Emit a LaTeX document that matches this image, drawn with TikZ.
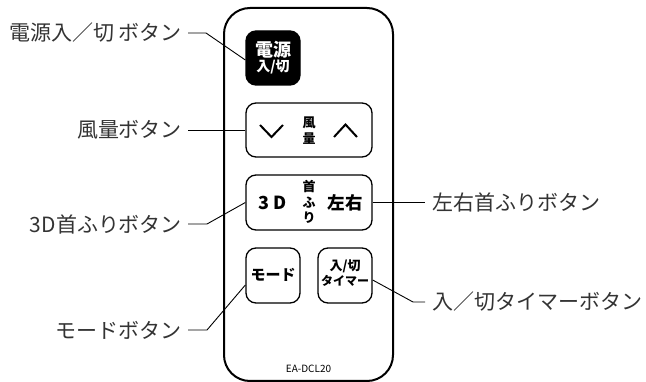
\documentclass[tikz,border=0pt]{standalone}
\usepackage{fontspec}
\setmainfont{Noto Sans CJK JP}
\begin{document}
\begin{tikzpicture}[x=1pt,y=-1pt,
  lbl/.style={inner sep=0pt, outer xsep=6pt, font=\fontsize{21}{24}\selectfont, text=black!80},
  btn/.style={draw, line width=1.3pt, rounded corners=10pt, inner sep=0pt},
  lead/.style={line width=0.9pt},
  bt/.style={inner sep=0pt},
  chev/.style={line width=2pt}]
\useasboundingbox (0,0) rectangle (646,382);
% remote body
\draw[line width=2pt, rounded corners=26pt] (224,8) rectangle (393,381);
% buttons
\node[btn, fill=black, minimum width=54pt, minimum height=54pt] (pw) at (273,58) {};
\node[btn, minimum width=126pt, minimum height=54pt] (fan) at (309,130) {};
\node[btn, minimum width=126pt, minimum height=55pt] (tdb) at (309,202.5) {};
\node[btn, minimum width=54pt, minimum height=55pt] (mode) at (273,275.5) {};
\node[btn, minimum width=54pt, minimum height=55pt] (tmr) at (345,275.5) {};
% button texts
\node[bt, text=white, font=\bfseries\fontsize{18}{18}\selectfont] (pwa) at (273,50) {電源};
\node[bt, text=white, font=\bfseries\fontsize{14}{14}\selectfont] (pwb) at (273,67.5) {入/切};
\node[bt, font=\bfseries\fontsize{13}{13}\selectfont] (fana) at (309,123) {風};
\node[bt, font=\bfseries\fontsize{13}{13}\selectfont] (fanb) at (309,139) {量};
\draw[chev] (260,125) -- (271.5,137) -- (283,125);
\draw[chev] (334,137) -- (345.5,124.5) -- (357,137);
\node[bt, font=\bfseries\fontsize{18}{18}\selectfont] (tda) at (272.5,203) {3\hspace{4.5pt}D};
\node[bt, font=\bfseries\fontsize{13}{13}\selectfont] (tdb1) at (309,187) {首};
\node[bt, font=\bfseries\fontsize{13}{13}\selectfont] (tdb2) at (309,203) {ふ};
\node[bt, font=\bfseries\fontsize{13}{13}\selectfont] (tdb3) at (309,218) {り};
\node[bt, font=\bfseries\fontsize{17.5}{18}\selectfont] (tdc) at (345,203) {左右};
\node[bt, font=\bfseries\fontsize{15}{15}\selectfont] (modet) at (273,275) {モード};
\node[bt, font=\bfseries\fontsize{13}{13}\selectfont] (tma) at (345,266) {入/切};
\node[bt, font=\bfseries\fontsize{12}{12}\selectfont] (tmb) at (345,281) {タイマー};
\node[bt, font=\fontsize{10}{10}\selectfont] (model) at (308.5,369) {EA-DCL20};
% labels
\node[lbl, anchor=east] (l1) at (188,33) {電源入／切 ボタン};
\node[lbl, anchor=east] (l2) at (188,130) {風量ボタン};
\node[lbl, anchor=east] (l3) at (188,224) {3D首ふりボタン};
\node[lbl, anchor=east] (l4) at (188,330) {モードボタン};
\node[lbl, anchor=west, outer xsep=7pt] (l5) at (425,202.5) {左右首ふりボタン};
\node[lbl, anchor=west, outer xsep=7pt] (l6) at (425,302) {入／切タイマーボタン};
% leaders
\coordinate (k1) at (206,33);
\coordinate (k3) at (207,224);
\coordinate (k4) at (207,330);
\coordinate (k6) at (413,302);
\draw[lead] (l1.east) -- (k1) -- ([yshift=-2pt]pw.west);
\draw[lead] (l2.east) -- (fan.west);
\draw[lead] (l3.east) -- (k3) -- (tdb.west);
\draw[lead] (l4.east) -- (k4) -- ([yshift=-9.5pt]mode.west);
\draw[lead] (tdb.east) -- (l5.west);
\draw[lead] ([yshift=-4.5pt]tmr.east) -- (k6) -- (l6.west);
\end{tikzpicture}
\end{document}
